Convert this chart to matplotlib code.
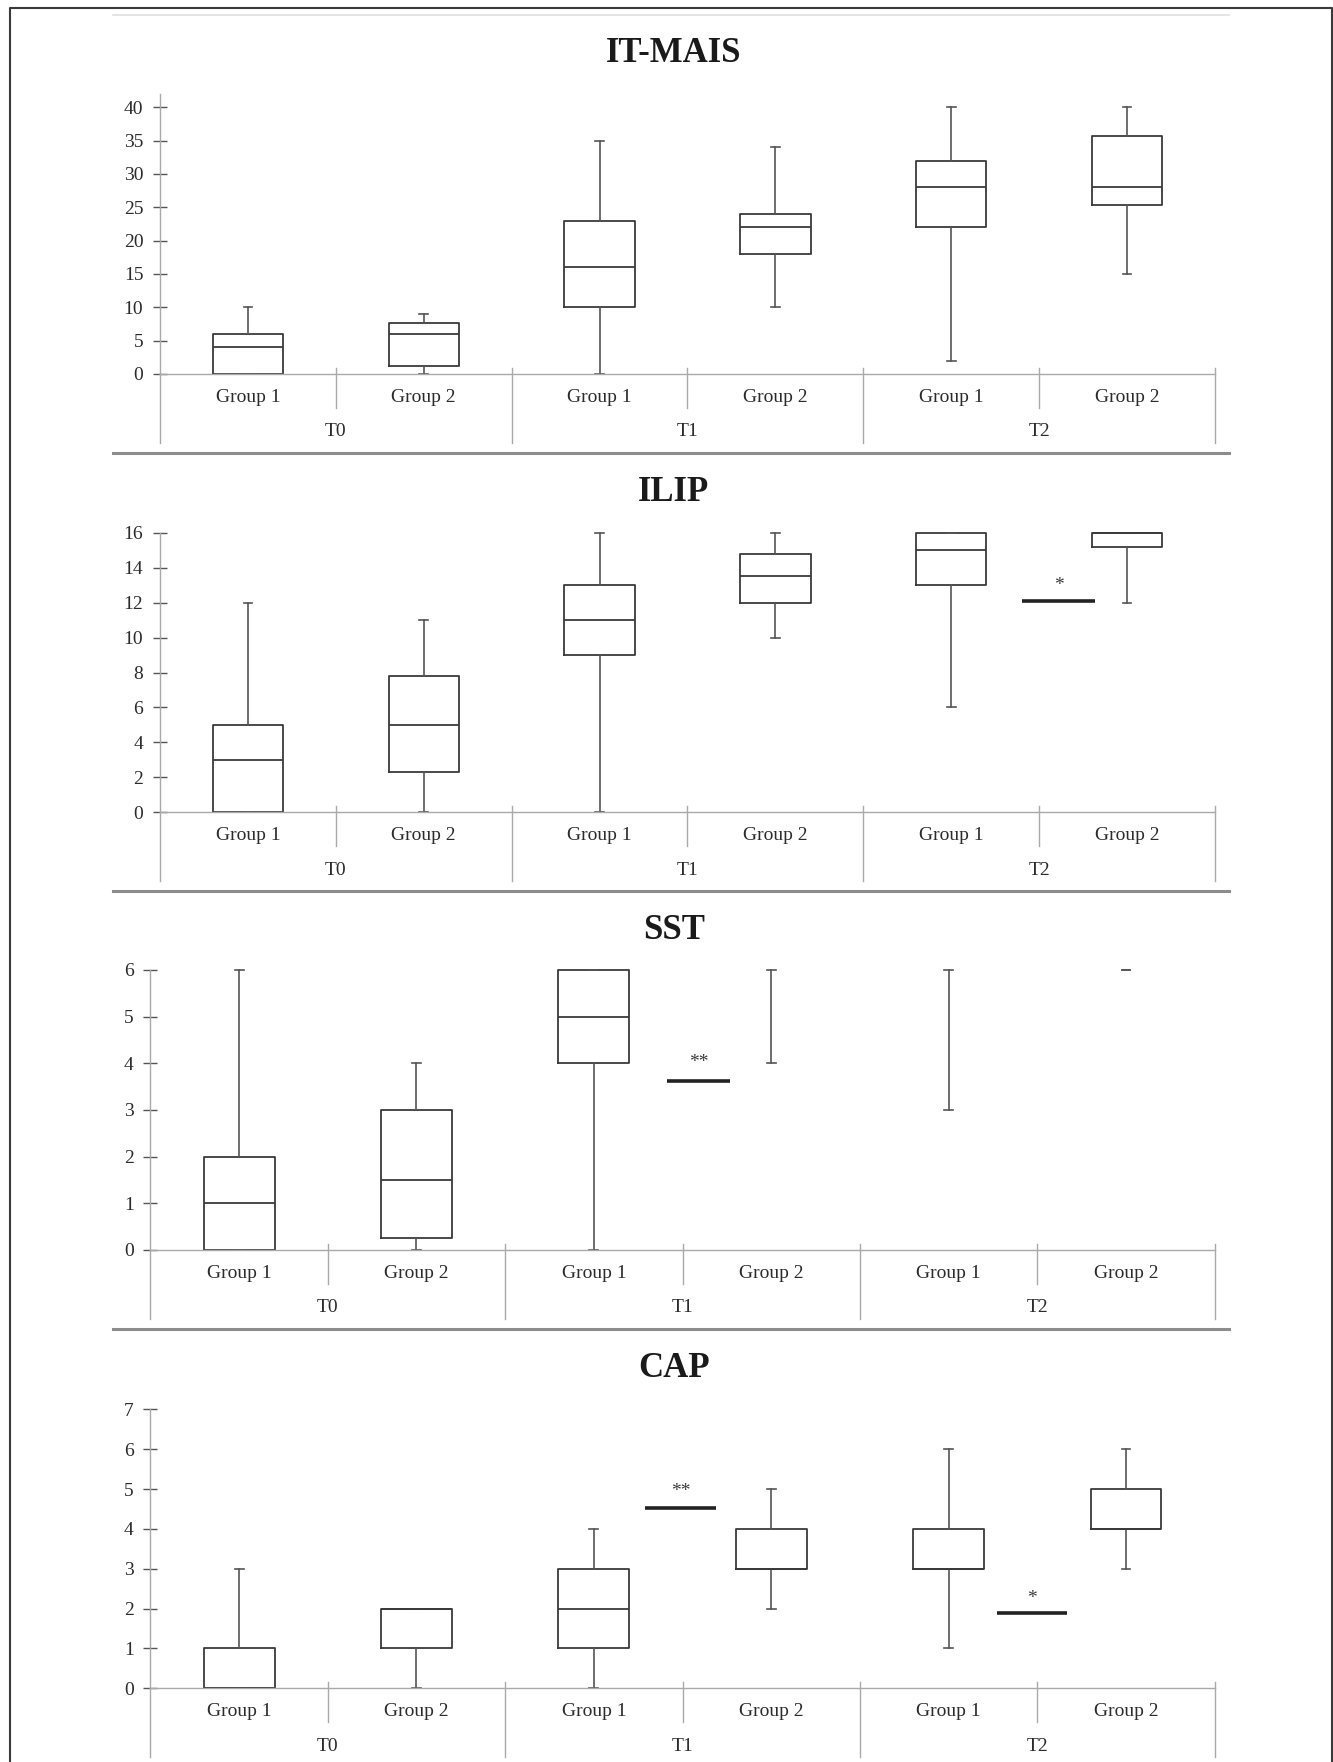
import matplotlib
matplotlib.use("Agg")
import matplotlib.pyplot as plt
from matplotlib.lines import Line2D

plt.rcParams["font.family"] = ["Liberation Serif", "DejaVu Serif"]

groups = ["Group 1", "Group 2", "Group 1", "Group 2", "Group 1", "Group 2"]
times = ["T0", "T1", "T2"]

# five-number summaries (min, q1, median, q3, max)
itmais_min = [0, 0, 0, 10, 2, 15]
itmais_q1 = [0, 1.2, 10, 18, 22, 25.3]
itmais_med = [4, 6, 16, 22, 28, 28]
itmais_q3 = [6, 7.7, 23, 24, 32, 35.7]
itmais_max = [10, 9, 35, 34, 40, 40]

ilip_min = [0, 0, 0, 10, 6, 12]
ilip_q1 = [0, 2.3, 9, 12, 13, 15.2]
ilip_med = [3, 5, 11, 13.5, 15, 16]
ilip_q3 = [5, 7.8, 13, 14.8, 16, 16]
ilip_max = [12, 11, 16, 16, 16, 16]

sst_min = [0, 0, 0, 4, 3, 6]
sst_q1 = [0, 0.25, 4, 6, 6, 6]
sst_med = [1, 1.5, 5, 6, 6, 6]
sst_q3 = [2, 3, 6, 6, 6, 6]
sst_max = [6, 4, 6, 6, 6, 6]

cap_min = [0, 0, 0, 2, 1, 3]
cap_q1 = [0, 1, 1, 3, 3, 4]
cap_med = [0, 2, 2, 3, 3, 4]
cap_q3 = [1, 2, 3, 4, 4, 5]
cap_max = [3, 2, 4, 5, 6, 6]

# significance marks: (x start, x end, bar level, label, label level)
ilip_sig = [(4.40, 4.82, 12.1, "*", 13.0)]
sst_sig = [(2.41, 2.77, 3.62, "**", 4.02)]
cap_sig = [(2.29, 2.69, 4.53, "**", 4.93), (4.27, 4.67, 1.90, "*", 2.25)]

W, H = 1333, 1762
fig = plt.figure(figsize=(W / 100, H / 100), dpi=100)

box_col = "#3a3a3a"
wh_col = "#555555"
ax_col = "#a9a9a9"
txt_col = "#2b2b2b"

panels = [
    ("IT-MAIS", (itmais_min, itmais_q1, itmais_med, itmais_q3, itmais_max),
     [], (160, 1215, 94, 374), 42, range(0, 41, 5), 62),
    ("ILIP", (ilip_min, ilip_q1, ilip_med, ilip_q3, ilip_max),
     ilip_sig, (160, 1215, 532.7, 812.3), 16, range(0, 17, 2), 501),
    ("SST", (sst_min, sst_q1, sst_med, sst_q3, sst_max),
     sst_sig, (150.4, 1214.7, 970, 1250), 6, range(0, 7), 939),
    ("CAP", (cap_min, cap_q1, cap_med, cap_q3, cap_max),
     cap_sig, (150.4, 1214.7, 1409.3, 1688.3), 7, range(0, 8), 1377),
]

for title, (lo, q1, med, q3, hi), sigs, (x0, x1, yt, yb), ymax, yticks, tb in panels:
    ax = fig.add_axes([x0 / W, 1 - yb / H, (x1 - x0) / W, (yb - yt) / H])
    stats = []
    for i in range(len(groups)):
        stats.append(dict(whislo=lo[i], q1=q1[i], med=med[i], q3=q3[i],
                          whishi=hi[i], fliers=[]))
    bp = ax.bxp(stats, positions=range(len(groups)), widths=0.40,
                capwidths=0.05, showfliers=False, manage_ticks=False,
                boxprops=dict(color=box_col, linewidth=1.3),
                medianprops=dict(color=box_col, linewidth=1.3),
                whiskerprops=dict(color=wh_col, linewidth=1.2),
                capprops=dict(color=wh_col, linewidth=1.2))
    for k in bp:
        for art in bp[k]:
            art.set_clip_on(False)
    for i in range(len(groups)):
        if q1[i] == q3[i]:
            bp["boxes"][i].set_visible(False)
            bp["medians"][i].set_visible(False)

    ax.set_xlim(-0.5, 5.5)
    ax.set_ylim(0, ymax)
    ax.set_yticks(list(yticks))
    ax.set_xticks([])
    for s in ["top", "right"]:
        ax.spines[s].set_visible(False)
    for s in ["left", "bottom"]:
        ax.spines[s].set_color(ax_col)
        ax.spines[s].set_linewidth(1.0)
    ax.tick_params(axis="y", direction="inout", length=10, width=1.0,
                   color=wh_col, labelsize=14, labelcolor=txt_col, pad=7)

    tr = ax.get_xaxis_transform()
    hpx = yb - yt
    up = 6 / hpx
    short = -34 / hpx
    long_ = -69 / hpx
    for xb in [-0.5, 0.5, 1.5, 2.5, 3.5, 4.5, 5.5]:
        bottom = long_ if xb in (-0.5, 1.5, 3.5, 5.5) else short
        top = 0 if xb == -0.5 else up
        ax.add_line(Line2D([xb, xb], [bottom, top], transform=tr,
                           color=ax_col, linewidth=1.0, clip_on=False))
    for i, g in enumerate(groups):
        ax.text(i, -23 / hpx, g, transform=tr, ha="center", va="center",
                fontsize=14, color=txt_col)
    for j, t in enumerate(times):
        ax.text(2 * j + 0.5, -58 / hpx, t, transform=tr, ha="center",
                va="center", fontsize=14, color=txt_col)

    for xa, xb, yl, lab, ys in sigs:
        ax.plot([xa, xb], [yl, yl], color="#222222", linewidth=2.6,
                solid_capstyle="butt", clip_on=False)
        ax.text((xa + xb) / 2, ys, lab, ha="center", va="center",
                fontsize=14, color="#3a3a3a")

    fig.text(674 / W, 1 - tb / H, title, ha="center", va="baseline",
             fontsize=25, fontweight="bold", color="#1a1a1a")

# panel separators and page frame
for ysep in [453, 891, 1329]:
    fig.add_artist(Line2D([113 / W, 1229 / W], [1 - ysep / H, 1 - ysep / H],
                          color="#8c8c8c", linewidth=2.2))
fig.add_artist(Line2D([113 / W, 1229 / W], [1 - 15 / H, 1 - 15 / H],
                      color="#dedede", linewidth=1.2))
fig.add_artist(Line2D([9.5 / W, 9.5 / W, 1331.5 / W, 1331.5 / W],
                      [0, 1 - 8 / H, 1 - 8 / H, 0],
                      color="#3a3a3a", linewidth=1.5))

fig.savefig("out.png", dpi=100)
